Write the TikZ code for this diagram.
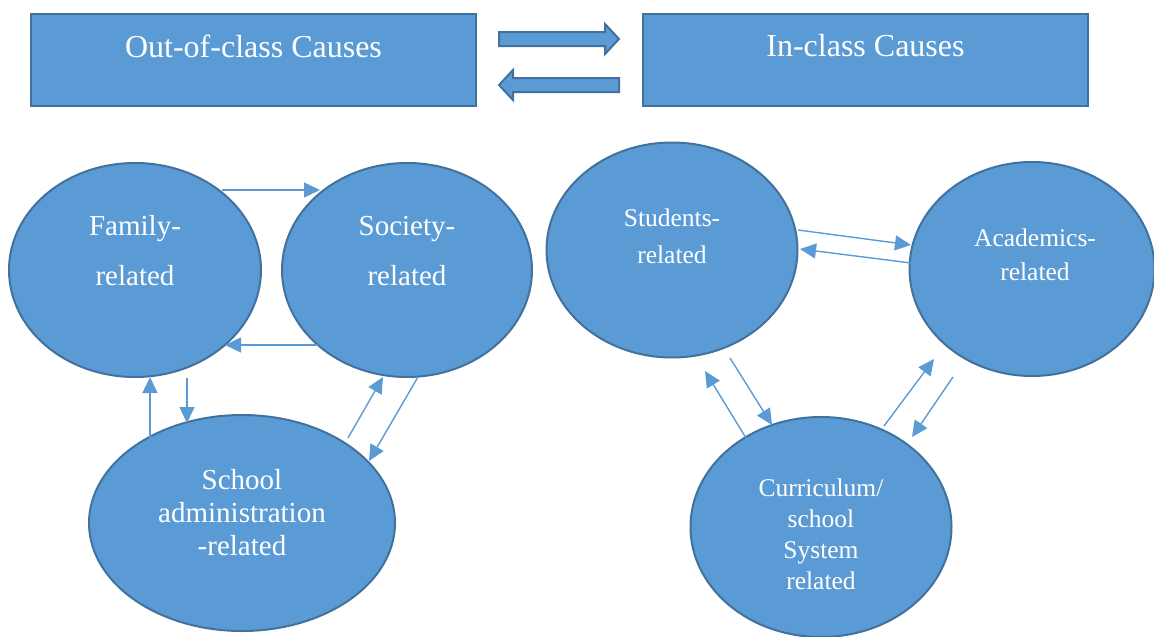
\documentclass[tikz,border=0pt]{standalone}
\usepackage{fontspec}
\setmainfont{Liberation Serif}
\usetikzlibrary{arrows.meta,shapes.geometric,calc}
\definecolor{fillblue}{HTML}{5B9BD5}
\definecolor{edgeblue}{HTML}{41719C}
\begin{document}
\begin{tikzpicture}[x=1pt,y=-1pt,
 box/.style={draw=edgeblue,line width=2pt,fill=fillblue,minimum width=445pt,minimum height=92pt,inner sep=0pt},
 bubble/.style={draw=edgeblue,line width=2pt,fill=fillblue,ellipse,inner sep=0pt},
 lbl/.style={text=white,align=center,inner sep=0pt},
 link/.style={draw=fillblue,line width=1.4pt,-{Triangle[length=16pt,width=15pt]}},
 fat/.style={draw=edgeblue,line width=2pt,fill=fillblue,line join=miter}]
\useasboundingbox (0,0) rectangle (1154,637);
% top boxes
\node[box] (out) at (253.5,60) {};
\node[box] (in) at (865.5,60) {};
\node[lbl,font=\fontsize{32}{36}\selectfont] (outt) at (253.5,46) {Out-of-class Causes};
\node[lbl,font=\fontsize{32}{36}\selectfont] (int) at (865.5,46) {In-class Causes};
% block arrows
\draw[fat] (499,32)--(605,32)--(605,24)--(619,39)--(605,54)--(605,46)--(499,46)--cycle;
\draw[fat] (619,78)--(513,78)--(513,70)--(499,85)--(513,100)--(513,92)--(619,92)--cycle;
% ellipses
\node[bubble,minimum width=252pt,minimum height=214pt] (fam) at (135,270) {};
\node[bubble,minimum width=250pt,minimum height=214pt] (soc) at (407,270) {};
\node[bubble,minimum width=306pt,minimum height=216pt] (sch) at (242,523) {};
\node[bubble,minimum width=251pt,minimum height=215pt] (stu) at (672,250) {};
\node[bubble,minimum width=245pt,minimum height=214pt] (aca) at (1032,269) {};
\node[bubble,minimum width=261pt,minimum height=220pt] (cur) at (821,527) {};
% labels
\node[lbl,font=\fontsize{29}{50}\selectfont] (famt) at (135,251) {Family-\\related};
\node[lbl,font=\fontsize{29}{50}\selectfont] (soct) at (407,251) {Society-\\related};
\node[lbl,font=\fontsize{29}{33}\selectfont] (scht) at (242,513) {School\\administration\\-related};
\node[lbl,font=\fontsize{25.5}{37}\selectfont] (stut) at (672,236) {Students-\\related};
\node[lbl,font=\fontsize{25.5}{34}\selectfont] (acat) at (1035,255) {Academics-\\related};
\node[lbl,font=\fontsize{25.5}{31}\selectfont] (curt) at (821,534) {Curriculum/\\school\\System\\related};
% connectors
\draw[link] ($(fam.center)+(87,-80)$) -- ($(soc.center)+(-87,-80)$);
\draw[link] ($(soc.center)+(-89,75)$) -- ($(fam.center)+(90,75)$);
\draw[link] ($(fam.center)+(52,108)$) -- ($(sch.center)+(-55,-100)$);
\draw[link] ($(sch.center)+(-92,-85)$) -- ($(fam.center)+(15,107)$);
\draw[link] ($(sch.center)+(106,-85)$) -- ($(soc.center)+(-24,107)$);
\draw[link] ($(soc.center)+(11,107)$) -- ($(sch.center)+(127,-62)$);
\draw[link] ($(stu.center)+(126,-20)$) -- ($(aca.center)+(-121,-24)$);
\draw[link] ($(aca.center)+(-121,-6)$) -- ($(stu.center)+(128,-1)$);
\draw[link] ($(cur.center)+(-75,-89)$) -- ($(stu.center)+(33,121)$);
\draw[link] ($(stu.center)+(58,108)$) -- ($(cur.center)+(-49,-102)$);
\draw[link] ($(cur.center)+(63,-101)$) -- ($(aca.center)+(-98,90)$);
\draw[link] ($(aca.center)+(-79,108)$) -- ($(cur.center)+(91,-90)$);
\end{tikzpicture}
\end{document}
